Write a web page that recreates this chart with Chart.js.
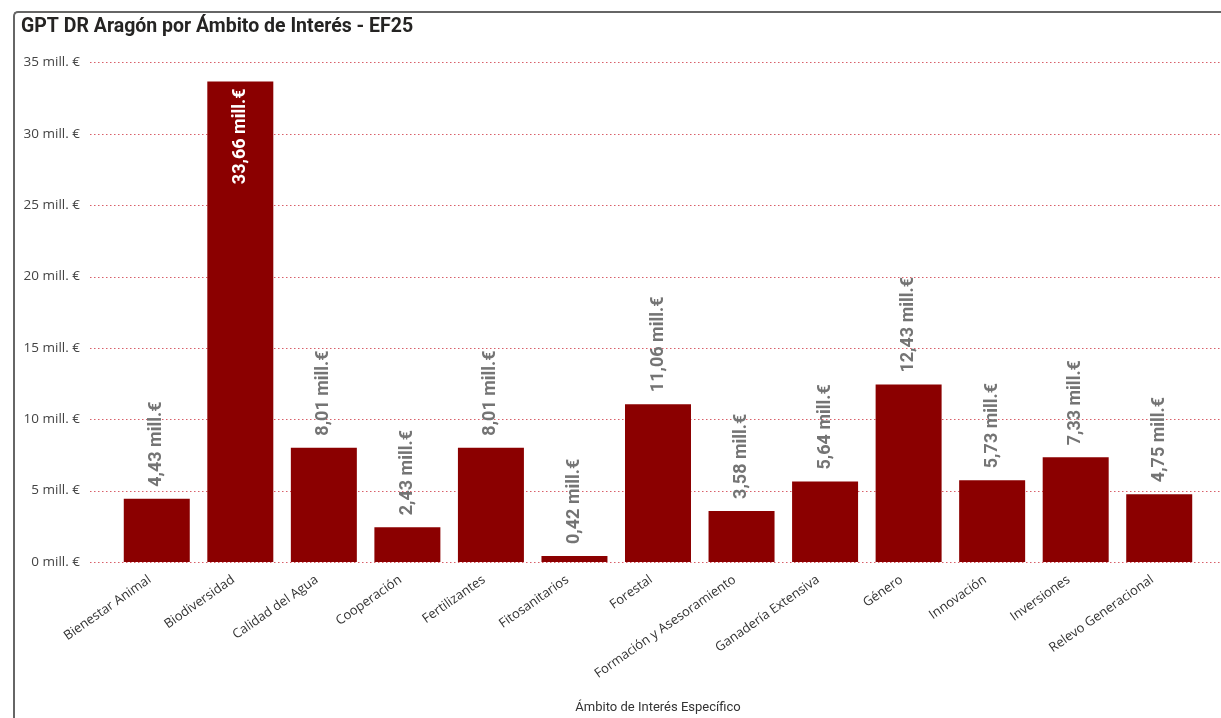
<!DOCTYPE html>
<html lang="es">
<head>
<meta charset="utf-8">
<title>GPT DR Aragón por Ámbito de Interés - EF25</title>
<script src="https://cdn.jsdelivr.net/npm/chart.js@4.4.1/dist/chart.umd.min.js"></script>
<style>
    html, body { margin: 0; padding: 0; background: #fff; overflow: hidden; }
    #wrap { position: relative; width: 1221px; height: 718px; overflow: hidden; }
    /* marco del visual (solo borde superior e izquierdo visibles) */
    #marco {
        position: absolute; left: 13px; top: 11px; width: 1300px; height: 800px;
        border-left: 2px solid #666; border-top: 2px solid #666; border-top-left-radius: 5px;
    }
    canvas { position: absolute; left: 0; top: 0; }
</style>
</head>
<body>
<div id="wrap">
    <div id="marco"></div>
    <canvas id="gptChart" width="1221" height="718"></canvas>
</div>
<script>
    // Datos del gráfico
    var categorias = ['Bienestar Animal', 'Biodiversidad', 'Calidad del Agua', 'Cooperación', 'Fertilizantes',
        'Fitosanitarios', 'Forestal', 'Formación y Asesoramiento', 'Ganadería Extensiva', 'Género',
        'Innovación', 'Inversiones', 'Relevo Generacional'];
    var valores = [4.43, 33.66, 8.01, 2.43, 8.01, 0.42, 11.06, 3.58, 5.64, 12.43, 5.73, 7.33, 4.75]; // mill. €
    var ticksY = [0, 5, 10, 15, 20, 25, 30, 35];

    var fmt = function (v) {
        return v.toFixed(2).replace('.', ',') + ' mill.€';
    };

    // Líneas de cuadrícula punteadas (se alargan hacia la izquierda y hasta el borde derecho)
    var rejilla = {
        id: 'rejilla',
        beforeDatasetsDraw: function (chart) {
            var ctx = chart.ctx, y = chart.scales.y;
            ctx.save();
            ctx.strokeStyle = '#d85f69';
            ctx.lineWidth = 1;
            ctx.setLineDash([1.5, 2.5]);
            ticksY.forEach(function (t) {
                var py = Math.round(y.getPixelForValue(t)) + 0.5;
                ctx.beginPath();
                ctx.moveTo(chart.chartArea.left - 25, py);
                ctx.lineTo(chart.width, py);
                ctx.stroke();
            });
            ctx.restore();
        }
    };

    // Etiquetas de datos giradas (encima de la barra, o dentro si no caben)
    var etiquetas = {
        id: 'etiquetas',
        afterDatasetsDraw: function (chart) {
            var ctx = chart.ctx, meta = chart.getDatasetMeta(0);
            ctx.save();
            ctx.font = 'bold 18px Roboto';
            ctx.textBaseline = 'middle';
            meta.data.forEach(function (bar, i) {
                var txt = fmt(valores[i]);
                var w = ctx.measureText(txt).width;
                ctx.save();
                ctx.translate(bar.x, bar.y);
                ctx.rotate(-Math.PI / 2);
                if (bar.y - 12 - w < chart.chartArea.top - 10) {
                    ctx.fillStyle = '#ffffff';
                    ctx.textAlign = 'right';
                    ctx.fillText(txt, -7, 0);
                } else {
                    ctx.fillStyle = '#747474';
                    ctx.textAlign = 'left';
                    ctx.fillText(txt, 12, 0);
                }
                ctx.restore();
            });
            ctx.restore();
        }
    };

    var ctx = document.getElementById('gptChart').getContext('2d');
    var gptChart = new Chart(ctx, {
        type: 'bar',
        data: {
            labels: categorias,
            datasets: [{
                data: valores,
                backgroundColor: '#8b0000',
                barPercentage: 0.79,
                categoryPercentage: 1
            }]
        },
        options: {
            responsive: false,
            animation: false,
            layout: { padding: { left: 21, right: 20, top: 10, bottom: 0 } },
            plugins: {
                legend: { display: false },
                tooltip: { enabled: false },
                title: {
                    display: true,
                    text: 'GPT DR Aragón por Ámbito de Interés - EF25',
                    align: 'start',
                    color: '#252423',
                    font: { family: 'Roboto', size: 19.5, weight: 'bold' },
                    padding: { top: 5, bottom: 24 }
                }
            },
            scales: {
                x: {
                    grid: { display: false, drawTicks: false },
                    border: { display: false },
                    ticks: {
                        color: '#333',
                        font: { family: 'Open Sans', size: 13 },
                        maxRotation: 35,
                        minRotation: 35,
                        autoSkip: false,
                        padding: 10,
                        labelOffset: -7
                    },
                    title: {
                        display: true,
                        text: 'Ámbito de Interés Específico',
                        color: '#333',
                        font: { family: 'Roboto', size: 13 },
                        padding: { top: 0, bottom: 2 }
                    },
                    afterFit: function (s) { s.height = 156; }
                },
                y: {
                    min: 0,
                    max: 35,
                    grid: { display: false, drawTicks: false },
                    border: { display: false },
                    ticks: {
                        stepSize: 5,
                        padding: 35,
                        color: '#444',
                        font: { family: 'Open Sans', size: 13.5 },
                        callback: function (v) { return v + ' mill. €'; }
                    },
                    afterFit: function (s) { s.width = 94; }
                }
            }
        },
        plugins: [rejilla, etiquetas]
    });
</script>
</body>
</html>
